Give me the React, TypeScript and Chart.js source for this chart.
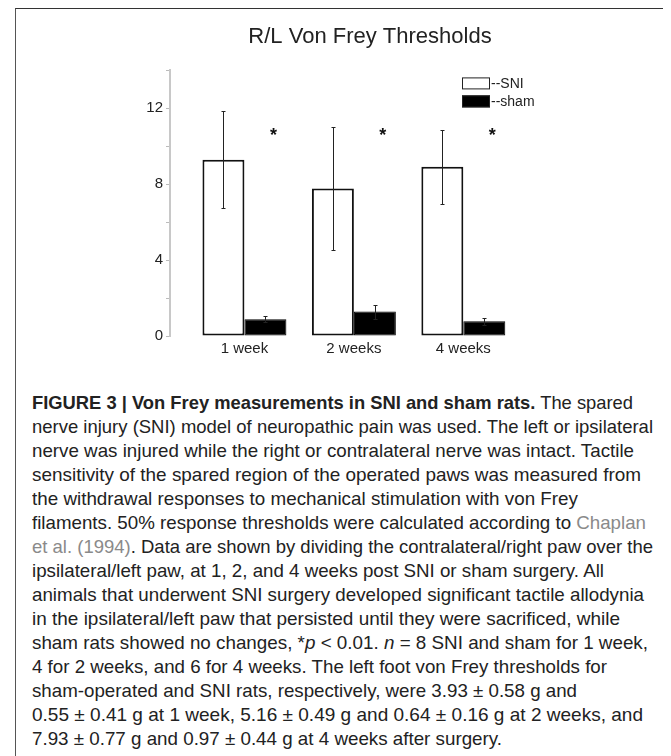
import React, { useEffect, useLayoutEffect, useRef } from "react";
import { Chart, registerables } from "chart.js";

Chart.register(...registerables);

const categories = ["1 week", "2 weeks", "4 weeks"];
const sniValues = [9.29, 7.77, 8.92];
const sniErrors = [2.55, 3.23, 1.95];
const shamValues = [0.88, 1.29, 0.78];
const shamErrors = [0.16, 0.37, 0.19];
const asteriskY = [10.7, 10.7, 10.7];
const yTickLabels = [0, 4, 8, 12];
const xMin = -0.68;
const xMax = 3.87;

const errors = [sniErrors, shamErrors];
const FONT = "'Liberation Sans', Arial, sans-serif";

const errorBarPlugin = {
  id: "errorBars",
  afterDatasetsDraw(chart: any) {
    const ctx = chart.ctx;
    const y = chart.scales.y;
    ctx.save();
    ctx.strokeStyle = "#222";
    ctx.lineWidth = 1;
    chart.data.datasets.forEach((ds: any, d: number) => {
      const meta = chart.getDatasetMeta(d);
      meta.data.forEach((el: any, i: number) => {
        const v = ds.data[i].y;
        const e = errors[d][i];
        const x = Math.round(el.x) + 0.5;
        const yt = Math.round(y.getPixelForValue(v + e)) + 0.5;
        const yb = Math.round(y.getPixelForValue(v - e)) + 0.5;
        ctx.beginPath();
        ctx.moveTo(x, yt);
        ctx.lineTo(x, yb);
        ctx.moveTo(x - 2, yt);
        ctx.lineTo(x + 2, yt);
        ctx.moveTo(x - 2, yb);
        ctx.lineTo(x + 2, yb);
        ctx.stroke();
      });
    });
    const shamMeta = chart.getDatasetMeta(1);
    ctx.fillStyle = "#111";
    ctx.font = "bold 18px " + FONT;
    ctx.textAlign = "center";
    ctx.textBaseline = "middle";
    shamMeta.data.forEach((el: any, i: number) => {
      ctx.fillText("*", el.x + 8, y.getPixelForValue(asteriskY[i]) + 3);
    });
    ctx.restore();
  },
};

const legendPlugin = {
  id: "customLegend",
  afterDraw(chart: any) {
    const ctx = chart.ctx;
    const a = chart.chartArea;
    const left = a.left + 292;
    ctx.save();
    ctx.font = "14px " + FONT;
    ctx.textBaseline = "middle";
    ctx.textAlign = "left";
    chart.data.datasets.forEach((ds: any, k: number) => {
      const top = a.top + 7 + k * 18;
      ctx.fillStyle = ds.backgroundColor;
      ctx.fillRect(left, top, 28, 12);
      ctx.strokeStyle = "#222";
      ctx.lineWidth = 1;
      ctx.strokeRect(left + 0.5, top + 0.5, 27, 11);
      ctx.fillStyle = "#222";
      ctx.fillText("--" + ds.label, left + 29, top + 6.5);
    });
    ctx.restore();
  },
};

function ChartCanvas() {
  const ref = useRef<HTMLCanvasElement | null>(null);
  useEffect(() => {
    if (!ref.current) return;
    const chart = new Chart(ref.current, {
      type: "bar",
      data: {
        datasets: [
          {
            label: "SNI",
            data: sniValues.map((v, i) => ({ x: i, y: v })),
            backgroundColor: "#ffffff",
            borderColor: "#111",
            borderWidth: 2,
            borderSkipped: false,
          },
          {
            label: "sham",
            data: shamValues.map((v, i) => ({ x: i, y: v })),
            backgroundColor: "#000000",
            borderColor: "#000000",
            borderWidth: 1,
            borderSkipped: false,
          },
        ],
      },
      options: {
        animation: false,
        responsive: false,
        maintainAspectRatio: false,
        events: [],
        categoryPercentage: 0.767,
        barPercentage: 1,
        layout: { padding: { left: 0, right: 0, top: 0, bottom: 9 } },
        plugins: {
          legend: { display: false },
          tooltip: { enabled: false },
          title: {
            display: true,
            text: "R/L Von Frey Thresholds",
            color: "#222",
            font: { family: FONT, size: 22, weight: "normal" },
            padding: { top: 15, bottom: 20 },
          },
        },
        scales: {
          x: {
            type: "linear",
            min: xMin,
            max: xMax,
            offset: false,
            grid: { display: false, drawTicks: false },
            border: { display: false },
            afterBuildTicks: (s: any) => {
              s.ticks = categories.map((_, i) => ({ value: i }));
            },
            ticks: {
              color: "#222",
              padding: 4,
              font: { family: FONT, size: 15 },
              callback: (v: any) => categories[v] ?? "",
            },
          },
          y: {
            min: 0,
            max: 14,
            afterFit: (s: any) => {
              s.width = 98;
            },
            grid: { drawOnChartArea: false, drawTicks: true, tickLength: 4, color: "#bbb" },
            border: { display: true, color: "#c8c8c8", width: 2 },
            ticks: {
              stepSize: 2,
              color: "#222",
              padding: 3,
              font: { family: FONT, size: 15 },
              callback: (v: any) => (yTickLabels.includes(v) ? String(v) : ""),
            },
          },
        },
      },
      plugins: [errorBarPlugin, legendPlugin],
    } as any);
    return () => chart.destroy();
  }, []);
  return <canvas ref={ref} width={596} height={362} style={{ display: "block", width: 596, height: 362 }} />;
}

const gray = { color: "#8a8a8a" };

// right end (page x) of each caption line, for fitting the condensed face
const lineEnds = [633, 653, 634, 641, 578, 646, 653, 604, 644, 620, 648, 607, 577, 643, 502];
const lineStart = 32;

export default function App() {
  const lineRefs = useRef<(HTMLSpanElement | null)[]>([]);
  useLayoutEffect(() => {
    lineRefs.current.forEach((el, i) => {
      if (!el) return;
      el.style.transform = "none";
      const w = el.getBoundingClientRect().width;
      const target = lineEnds[i] - lineStart;
      if (w > 0) el.style.transform = `scaleX(${target / w})`;
    });
  }, []);
  const lines: React.ReactNode[] = [
    <>
      <b>FIGURE 3 | Von Frey measurements in SNI and sham rats.</b> The spared
    </>,
    <>nerve injury (SNI) model of neuropathic pain was used. The left or ipsilateral</>,
    <>nerve was injured while the right or contralateral nerve was intact. Tactile</>,
    <>sensitivity of the spared region of the operated paws was measured from</>,
    <>the withdrawal responses to mechanical stimulation with von Frey</>,
    <>
      filaments. 50% response thresholds were calculated according to <span style={gray}>Chaplan</span>
    </>,
    <>
      <span style={gray}>et al. (1994)</span>. Data are shown by dividing the contralateral/right paw over the
    </>,
    <>ipsilateral/left paw, at 1, 2, and 4 weeks post SNI or sham surgery. All</>,
    <>animals that underwent SNI surgery developed significant tactile allodynia</>,
    <>in the ipsilateral/left paw that persisted until they were sacrificed, while</>,
    <>
      sham rats showed no changes, *<i>p</i> &lt; 0.01. <i>n</i> = 8 SNI and sham for 1 week,
    </>,
    <>4 for 2 weeks, and 6 for 4 weeks. The left foot von Frey thresholds for</>,
    <>sham-operated and SNI rats, respectively, were 3.93 ± 0.58 g and</>,
    <>0.55 ± 0.41 g at 1 week, 5.16 ± 0.49 g and 0.64 ± 0.16 g at 2 weeks, and</>,
    <>7.93 ± 0.77 g and 0.97 ± 0.44 g at 4 weeks after surgery.</>,
  ];
  return (
    <div
      style={{
        position: "relative",
        marginLeft: 7,
        width: 654,
        height: 748,
        boxSizing: "border-box",
        borderTop: "1px solid #333",
        borderLeft: "1px solid #555",
        borderRight: "1px solid #333",
        background: "#fff",
        overflow: "hidden",
      }}
    >
      <div style={{ position: "absolute", left: 56, top: 0 }}>
        <ChartCanvas />
      </div>
      <div
        style={{
          position: "absolute",
          left: 16,
          top: 382,
          fontFamily: FONT,
          fontSize: 19,
          lineHeight: "24px",
          color: "#222",
          whiteSpace: "nowrap",
        }}
      >
        {lines.map((l, i) => (
          <div key={i} style={{ height: 24 }}>
            <span
              ref={(el) => {
                lineRefs.current[i] = el;
              }}
              style={{ display: "inline-block", transformOrigin: "left center" }}
            >
              {l}
            </span>
          </div>
        ))}
      </div>
    </div>
  );
}
